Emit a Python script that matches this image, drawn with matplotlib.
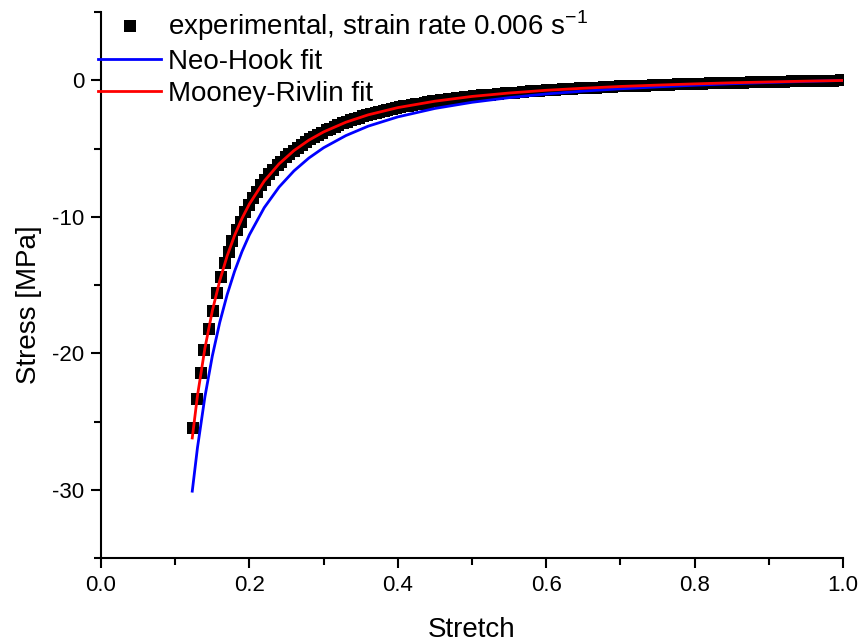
import matplotlib
matplotlib.use('Agg')
import matplotlib.pyplot as plt
from matplotlib.ticker import MultipleLocator

plt.rcParams['font.family'] = ['Liberation Sans', 'DejaVu Sans']
plt.rcParams['axes.unicode_minus'] = False

# experimental data (stretch, nominal stress in MPa)
exp_stretch = [0.124, 0.129, 0.135, 0.139, 0.145, 0.151, 0.156, 0.162, 0.167, 0.172,
               0.177, 0.183, 0.188, 0.194, 0.199, 0.205, 0.210, 0.216, 0.221, 0.227,
               0.232, 0.238, 0.243, 0.249, 0.254, 0.260, 0.265, 0.271, 0.276, 0.282,
               0.287, 0.293, 0.298, 0.304, 0.309, 0.315, 0.320, 0.326, 0.331, 0.337,
               0.342, 0.348, 0.353, 0.359, 0.364, 0.370, 0.375, 0.381, 0.386, 0.392,
               0.397, 0.403, 0.408, 0.414, 0.419, 0.425, 0.430, 0.436, 0.441, 0.447,
               0.452, 0.458, 0.463, 0.469, 0.474, 0.480, 0.485, 0.491, 0.496, 0.502,
               0.513, 0.524, 0.535, 0.546, 0.557, 0.568, 0.579, 0.590, 0.601, 0.612,
               0.623, 0.634, 0.645, 0.656, 0.667, 0.678, 0.689, 0.700, 0.711, 0.722,
               0.733, 0.744, 0.755, 0.766, 0.777, 0.788, 0.799, 0.810, 0.821, 0.832,
               0.843, 0.854, 0.865, 0.876, 0.887, 0.898, 0.909, 0.920, 0.931, 0.942,
               0.953, 0.964, 0.975, 0.986, 0.997]
exp_stress = [-25.45, -23.31, -21.43, -19.73, -18.23, -16.86, -15.60, -14.43, -13.41, -12.60,
              -11.79, -10.97, -10.34, -9.67, -9.15, -8.58, -8.15, -7.67, -7.30, -6.89,
              -6.57, -6.22, -5.95, -5.64, -5.41, -5.14, -4.93, -4.70, -4.52, -4.31,
              -4.15, -3.97, -3.82, -3.66, -3.53, -3.39, -3.27, -3.14, -3.04, -2.92,
              -2.83, -2.72, -2.64, -2.54, -2.46, -2.38, -2.30, -2.22, -2.16, -2.09,
              -2.03, -1.96, -1.90, -1.84, -1.79, -1.73, -1.69, -1.63, -1.59, -1.54,
              -1.50, -1.45, -1.42, -1.37, -1.34, -1.30, -1.27, -1.23, -1.20, -1.16,
              -1.10, -1.04, -0.99, -0.94, -0.89, -0.84, -0.80, -0.76, -0.72, -0.68,
              -0.65, -0.61, -0.58, -0.55, -0.52, -0.49, -0.47, -0.44, -0.42, -0.39,
              -0.37, -0.35, -0.33, -0.31, -0.29, -0.27, -0.25, -0.23, -0.22, -0.20,
              -0.19, -0.17, -0.15, -0.14, -0.13, -0.11, -0.10, -0.09, -0.07, -0.06,
              -0.05, -0.04, -0.03, -0.01, 0.00]

# fitted curves
fit_stretch = [0.123, 0.13, 0.14, 0.15, 0.16, 0.17, 0.18, 0.19, 0.20, 0.22,
               0.24, 0.26, 0.28, 0.30, 0.33, 0.36, 0.40, 0.45, 0.50, 0.55,
               0.60, 0.65, 0.70, 0.75, 0.80, 0.85, 0.90, 0.95, 1.00]
neo_hook = [-30.10, -26.92, -23.20, -20.20, -17.74, -15.70, -13.99, -12.54, -11.31, -9.32,
            -7.81, -6.63, -5.69, -4.93, -4.04, -3.35, -2.67, -2.05, -1.60, -1.26,
            -0.99, -0.78, -0.61, -0.47, -0.35, -0.24, -0.15, -0.07, 0.00]
mooney_rivlin = [-26.20, -23.11, -19.64, -16.89, -14.68, -12.86, -11.36, -10.11, -9.05, -7.37,
                 -6.11, -5.14, -4.38, -3.77, -3.06, -2.52, -1.99, -1.52, -1.17, -0.92,
                 -0.72, -0.57, -0.44, -0.34, -0.25, -0.17, -0.11, -0.05, 0.00]

fig = plt.figure(figsize=(8.63, 6.44), dpi=100)
ax = fig.add_axes([0.117, 0.1335, 0.86, 0.8475])

ax.plot(exp_stretch, exp_stress, 's', color='black', markersize=8, markeredgewidth=0,
        label='experimental, strain rate 0.006 s$^{\\mathregular{-1}}$')
ax.plot(fit_stretch, neo_hook, color='#0000ff', linewidth=2.0, label='Neo-Hook fit')
ax.plot(fit_stretch, mooney_rivlin, color='#ff0000', linewidth=2.0, label='Mooney-Rivlin fit')

ax.set_xlim(0, 1.0)
ax.set_ylim(-35, 5)
ax.xaxis.set_major_locator(MultipleLocator(0.2))
ax.xaxis.set_minor_locator(MultipleLocator(0.1))
ax.yaxis.set_major_locator(MultipleLocator(10))
ax.yaxis.set_minor_locator(MultipleLocator(5))
ax.xaxis.set_major_formatter(plt.FormatStrFormatter('%.1f'))

ax.spines['top'].set_visible(False)
ax.spines['right'].set_visible(False)
ax.spines['left'].set_linewidth(1.5)
ax.spines['bottom'].set_linewidth(1.5)
ax.tick_params(which='major', direction='out', length=7, width=1.5, labelsize=16, pad=5)
ax.tick_params(which='minor', direction='out', length=5, width=1.5)

ax.set_xlabel('Stretch', fontsize=20, labelpad=15)
ax.set_ylabel('Stress [MPa]', fontsize=20)
ax.yaxis.set_label_coords(-0.08, 0.465)

ax.legend(loc='upper left', bbox_to_anchor=(-0.004, 1.006), frameon=False, fontsize=20,
          handlelength=2.27, handletextpad=0.25, labelspacing=0.2, borderaxespad=0,
          borderpad=0)

fig.savefig('out.png', dpi=100)
